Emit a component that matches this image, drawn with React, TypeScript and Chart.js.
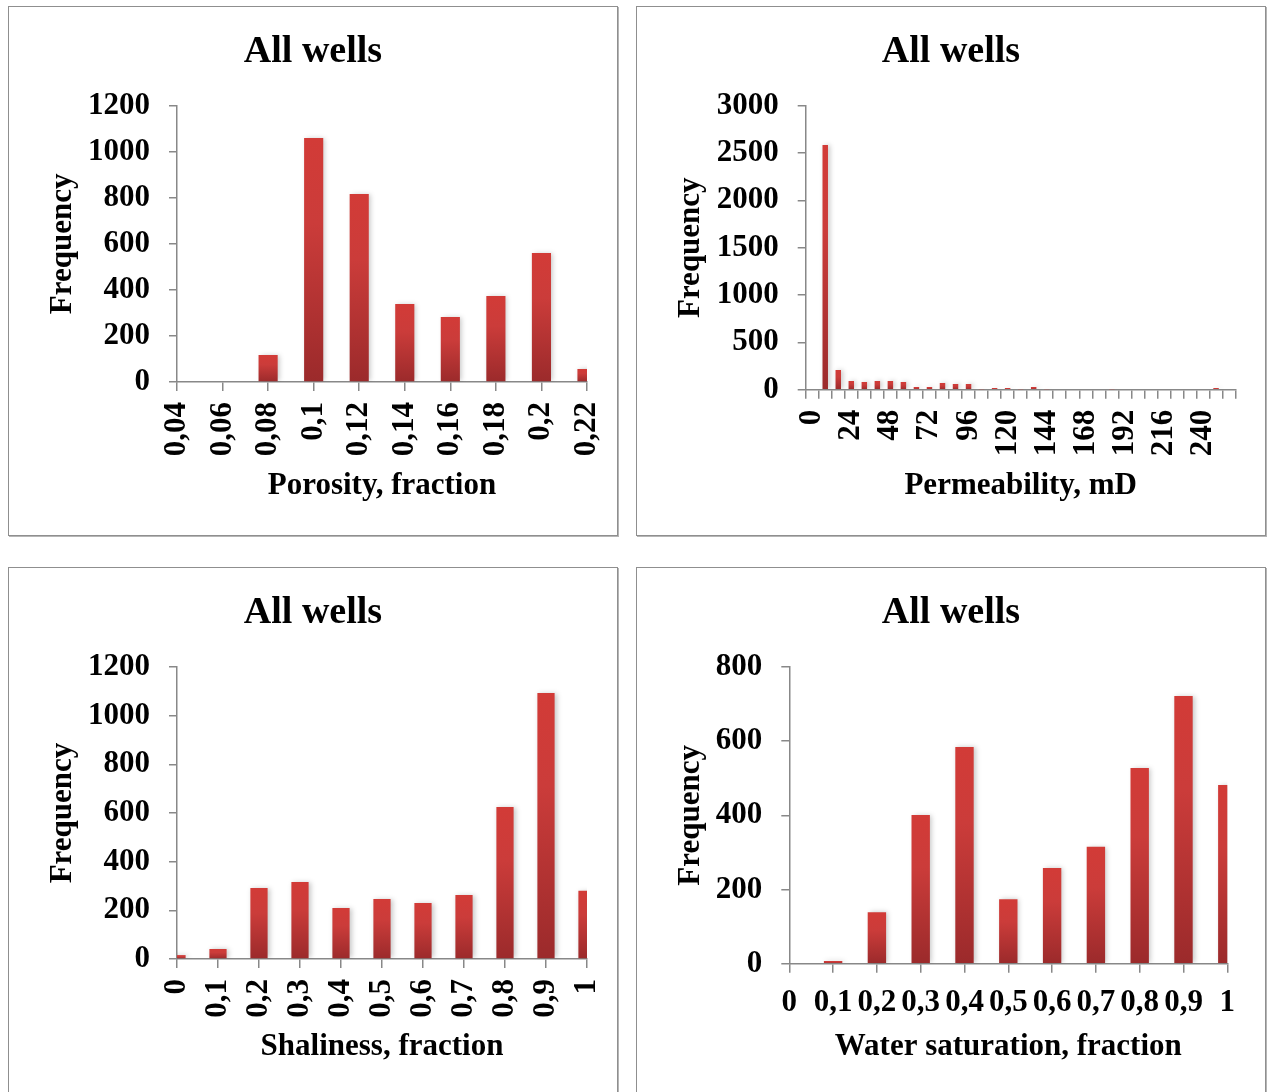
import React, { useEffect, useRef } from 'react';
import { Chart, registerables } from 'chart.js';

Chart.register(...registerables);

// ---------- data ----------
const porosityLabels = ['0,04', '0,06', '0,08', '0,1', '0,12', '0,14', '0,16', '0,18', '0,2', '0,22'];
const porosityCounts = [0, 0, 117, 1060, 816, 339, 282, 373, 560, 56];

const permeabilityBins = [
  0, 8, 16, 24, 32, 40, 48, 56, 64, 72, 80, 88, 96, 104, 112, 120, 128,
  136, 144, 152, 160, 168, 176, 184, 192, 200, 208, 216, 224, 232, 240, 248, 256,
];
const permeabilityCounts = [
  0, 2585, 208, 92, 81, 92, 92, 81, 28, 28, 70, 60, 60, 5, 17, 17, 5,
  28, 5, 0, 0, 0, 0, 5, 0, 0, 0, 0, 0, 0, 0, 17, 0,
];

const shalinessLabels = ['0', '0,1', '0,2', '0,3', '0,4', '0,5', '0,6', '0,7', '0,8', '0,9', '1'];
const shalinessCounts = [16, 41, 292, 316, 210, 247, 230, 263, 625, 1093, 280];

const saturationLabels = ['0', '0,1', '0,2', '0,3', '0,4', '0,5', '0,6', '0,7', '0,8', '0,9', '1'];
const saturationCounts = [0, 7, 139, 401, 584, 174, 258, 315, 528, 722, 482];

const chartTitle = 'All wells';
const yTitle = 'Frequency';

// ---------- style ----------
const FONT = "'Times New Roman', 'Liberation Serif', serif";
const AXIS = '#888888';

type PanelDef = {
  left: number;
  top: number;
  w: number;
  h: number;
  labels: string[];
  data: number[];
  xTitle: string;
  yMax: number;
  yStep: number;
  area: { left: number; right: number; top: number; bottom: number };
  between: boolean;
  rotate: number;
  xPad: number;
  labelEvery: number;
};

const panels: PanelDef[] = [
  {
    left: 8, top: 6, w: 610, h: 530,
    labels: porosityLabels, data: porosityCounts, xTitle: 'Porosity, fraction',
    yMax: 1200, yStep: 200,
    area: { left: 168, right: 578, top: 98.7, bottom: 375 },
    between: false, rotate: 90, xPad: 11, labelEvery: 1,
  },
  {
    left: 636, top: 6, w: 630, h: 530,
    labels: permeabilityBins.map(String), data: permeabilityCounts, xTitle: 'Permeability, mD',
    yMax: 3000, yStep: 500,
    area: { left: 168.7, right: 598.6, top: 98.7, bottom: 382.7 },
    between: true, rotate: 90, xPad: 11, labelEvery: 3,
  },
  {
    left: 8, top: 567, w: 610, h: 530,
    labels: shalinessLabels, data: shalinessCounts, xTitle: 'Shaliness, fraction',
    yMax: 1200, yStep: 200,
    area: { left: 168, right: 578, top: 99, bottom: 391 },
    between: false, rotate: 90, xPad: 11, labelEvery: 1,
  },
  {
    left: 636, top: 567, w: 630, h: 530,
    labels: saturationLabels, data: saturationCounts, xTitle: 'Water saturation, fraction',
    yMax: 800, yStep: 200,
    area: { left: 152.3, right: 590.3, top: 99, bottom: 395.7 },
    between: false, rotate: 0, xPad: 12, labelEvery: 1,
  },
];

const barFill = (ctx: any) => {
  const chart = ctx.chart;
  if (!chart.chartArea || ctx.type !== 'data') return '#c43a36';
  const y = chart.scales.y;
  const top = y.getPixelForValue(ctx.raw);
  const bottom = y.getPixelForValue(0);
  if (!isFinite(top) || !isFinite(bottom) || bottom - top < 0.5) return '#cf3c38';
  const g = chart.ctx.createLinearGradient(0, top, 0, bottom);
  g.addColorStop(0, '#d23b37');
  g.addColorStop(0.35, '#cb3c3a');
  g.addColorStop(1, '#9b2a2b');
  return g;
};

const shadowPlugin = {
  id: 'barShadow',
  beforeDatasetsDraw(chart: any) {
    const c = chart.ctx;
    c.save();
    c.shadowColor = 'rgba(0,0,0,0.22)';
    c.shadowBlur = 5;
    c.shadowOffsetX = 2;
    c.shadowOffsetY = 0;
  },
  afterDatasetsDraw(chart: any) {
    chart.ctx.restore();
  },
};

function Panel({ p }: { p: PanelDef }) {
  const ref = useRef<HTMLCanvasElement | null>(null);
  const cw = p.w - 2;
  const ch = p.h - 2;

  useEffect(() => {
    if (!ref.current) return;
    const titleSize = 38;
    const tickSize = 31;
    const titleLH = titleSize * 1.2;
    const titlePadTop = 22.4;
    const chart = new Chart(ref.current, {
      type: 'bar',
      data: {
        labels: p.labels,
        datasets: [
          {
            data: p.data,
            backgroundColor: barFill,
            borderWidth: 0,
            categoryPercentage: 0.42,
            barPercentage: 1,
            clip: 0,
          } as any,
        ],
      },
      plugins: [shadowPlugin],
      options: {
        animation: false,
        responsive: false,
        maintainAspectRatio: false,
        devicePixelRatio: 1,
        events: [],
        layout: { padding: 0 },
        plugins: {
          legend: { display: false },
          tooltip: { enabled: false },
          title: {
            display: true,
            text: chartTitle,
            color: '#000',
            font: { family: FONT, size: titleSize, weight: 'bold', lineHeight: 1.2 },
            padding: { top: titlePadTop, bottom: p.area.top - titlePadTop - titleLH },
          },
        },
        scales: {
          x: {
            type: 'category',
            offset: p.between,
            grid: {
              display: true,
              drawOnChartArea: false,
              drawTicks: true,
              tickLength: 9,
              color: AXIS,
              lineWidth: 1.5,
              offset: p.between,
            },
            border: { display: true, color: AXIS, width: 1.5 },
            ticks: {
              autoSkip: false,
              minRotation: p.rotate,
              maxRotation: p.rotate,
              padding: p.xPad,
              color: '#000',
              font: { family: FONT, size: tickSize, weight: 'bold', lineHeight: 1.2 },
              callback: (_v: any, i: number) => (i % p.labelEvery === 0 ? p.labels[i] : ''),
            },
            title: {
              display: true,
              text: p.xTitle,
              color: '#000',
              font: { family: FONT, size: tickSize, weight: 'bold', lineHeight: 1.2 },
              padding: { top: 0, bottom: 30.4 },
            },
            afterFit: (s: any) => {
              s.height = ch - p.area.bottom;
              s.paddingLeft = 0;
              s.paddingRight = cw - p.area.right;
            },
          },
          y: {
            min: 0,
            max: p.yMax,
            grid: {
              display: true,
              drawOnChartArea: false,
              drawTicks: true,
              tickLength: 8,
              color: AXIS,
              lineWidth: 1.5,
            },
            border: { display: true, color: AXIS, width: 1.5 },
            ticks: {
              stepSize: p.yStep,
              padding: 19,
              color: '#000',
              font: { family: FONT, size: tickSize, weight: 'bold', lineHeight: 1.2 },
              callback: (v: any) => String(v),
            },
            title: {
              display: true,
              text: yTitle,
              color: '#000',
              font: { family: FONT, size: tickSize, weight: 'bold', lineHeight: 1.2 },
              padding: { top: 35, bottom: 0 },
            },
            afterFit: (s: any) => {
              s.width = p.area.left;
            },
          },
        },
      } as any,
    });
    return () => chart.destroy();
  }, []);

  return (
    <div
      style={{
        position: 'absolute',
        left: p.left,
        top: p.top,
        width: p.w,
        height: p.h,
        boxSizing: 'border-box',
        border: '1px solid #8f8f8f',
        boxShadow: '1px 1px 0 #b5b5b5',
        background: '#fff',
      }}
    >
      <canvas ref={ref} width={cw} height={ch} style={{ display: 'block', width: cw, height: ch }} />
    </div>
  );
}

export default function App() {
  return (
    <div
      style={{
        position: 'absolute',
        left: 0,
        top: 0,
        width: 1272,
        height: 1092,
        overflow: 'hidden',
        background: '#fff',
      }}
    >
      {panels.map((p, i) => (
        <Panel key={i} p={p} />
      ))}
    </div>
  );
}
